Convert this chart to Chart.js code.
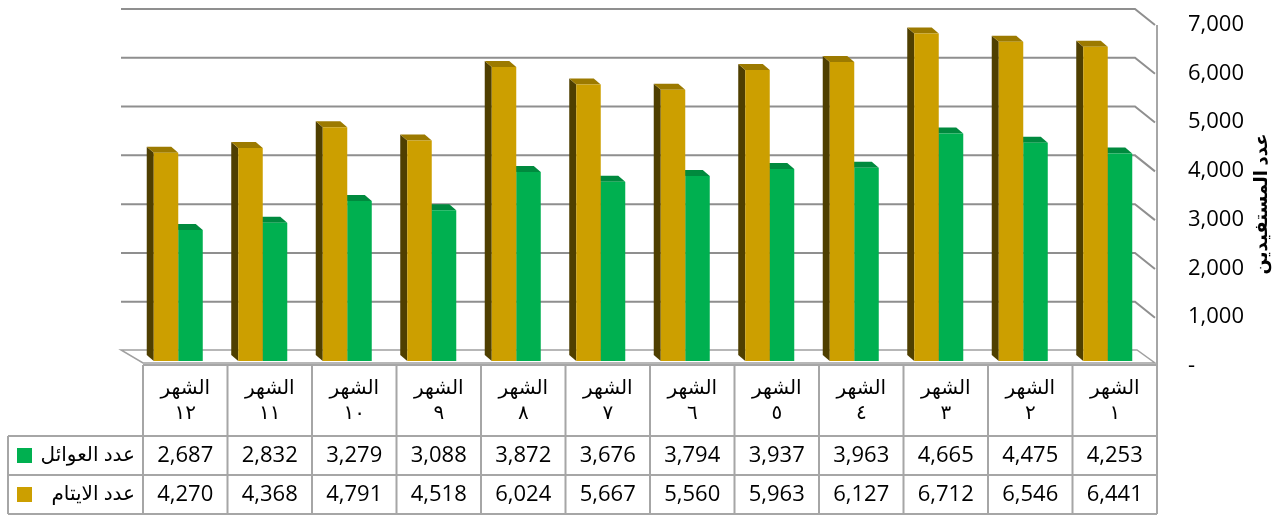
<!DOCTYPE html>
<html lang="ar">
<head>
<meta charset="utf-8">
<script src="https://cdn.jsdelivr.net/npm/chart.js@4.4.1/dist/chart.umd.min.js"></script>
<style>
  html, body { margin: 0; padding: 0; background: #fff; }
  #wrap { position: relative; width: 1284px; height: 517px; }
</style>
</head>
<body>
<div id="wrap"><canvas id="chart" width="1284" height="517"></canvas></div>
<script>
// data, month 1 .. 12 (drawn right to left)
const monthNums = ["١", "٢", "٣", "٤", "٥", "٦", "٧", "٨", "٩", "١٠", "١١", "١٢"];
const families = [4253, 4475, 4665, 3963, 3937, 3794, 3676, 3872, 3088, 3279, 2832, 2687];
const orphans = [6441, 6546, 6712, 6127, 5963, 5560, 5667, 6024, 4518, 4791, 4368, 4270];
const yTickLabels = ["-", "1,000", "2,000", "3,000", "4,000", "5,000", "6,000", "7,000"];

const monthWord = "الشهر";
const familiesName = "عدد العوائل";
const orphansName = "عدد الايتام";
const yTitle = "عدد المستفيدين";

const FONT = "'Open Sans', 'DejaVu Sans', sans-serif";
const gold = { front: "#CC9F00", top: "#9C7A00", side: "#4F3F00" };
const green = { front: "#00B050", top: "#008A3E", side: "#005C29" };
const gridColor = "#8f8f8f";
const tableLine = "#a6a6a6";

const SHIFT = 7;   // bars sit a bit left of the table columns
const DEPTH_X = 7, DEPTH_Y = 6;  // bar depth

const excel3d = {
  id: "excel3d",
  beforeDatasetsDraw(chart) {
    const { ctx, chartArea: a, scales: { y } } = chart;
    const L = a.left + SHIFT, R = a.right + SHIFT;
    const y0 = y.getPixelForValue(0);
    ctx.save();

    // floor
    ctx.fillStyle = "#fff";
    ctx.strokeStyle = "#a0a0a0";
    ctx.lineWidth = 1.5;
    ctx.beginPath();
    ctx.moveTo(L - 22, y0 - 11);
    ctx.lineTo(R - 20, y0 - 11);
    ctx.lineTo(R - 2, y0 + 2);
    ctx.lineTo(L, y0 + 2);
    ctx.closePath();
    ctx.fill();
    ctx.stroke();

    // back wall grid lines + right side wall
    ctx.strokeStyle = gridColor;
    ctx.lineWidth = 2;
    for (let v = 1000; v <= 7000; v += 1000) {
      const py = y.getPixelForValue(v);
      ctx.beginPath();
      ctx.moveTo(L - 22, py - 10.5);
      ctx.lineTo(R - 22, py - 10.5);
      ctx.lineTo(R - 2, py + 5.5);
      ctx.stroke();
    }
    ctx.strokeStyle = "#a6a6a6";
    ctx.beginPath();
    ctx.moveTo(R, y.getPixelForValue(7000) + 5.5);
    ctx.lineTo(R, y0 + 4);
    ctx.stroke();

    // bar side and top faces
    const faces = [gold, green];
    chart.data.datasets.forEach((ds, di) => {
      const meta = chart.getDatasetMeta(di);
      const c = faces[di];
      meta.data.forEach(bar => {
        const p = bar.getProps(["x", "y", "base", "width"], true);
        const x0 = p.x - p.width / 2, x1 = p.x + p.width / 2;
        ctx.fillStyle = c.side;
        ctx.beginPath();
        ctx.moveTo(x0, p.y);
        ctx.lineTo(x0 - DEPTH_X, p.y - DEPTH_Y);
        ctx.lineTo(x0 - DEPTH_X, p.base - DEPTH_Y);
        ctx.lineTo(x0, p.base);
        ctx.closePath();
        ctx.fill();
        ctx.fillStyle = c.top;
        ctx.beginPath();
        ctx.moveTo(x0, p.y);
        ctx.lineTo(x0 - DEPTH_X, p.y - DEPTH_Y);
        ctx.lineTo(x1 - DEPTH_X, p.y - DEPTH_Y);
        ctx.lineTo(x1, p.y);
        ctx.closePath();
        ctx.fill();
      });
    });
    ctx.restore();
  },
  afterDraw(chart) {
    const { ctx, chartArea: a, scales: { x } } = chart;
    const L = a.left + SHIFT, R = a.right + SHIFT;
    const cw = (R - L) / monthNums.length;
    const top = 365, r1 = 436, r2 = 475, bot = 514, left = 8;
    ctx.save();

    // grid of the data table
    ctx.strokeStyle = tableLine;
    ctx.lineWidth = 2;
    ctx.beginPath();
    ctx.moveTo(L, top); ctx.lineTo(R, top);
    [r1, r2, bot].forEach(yy => { ctx.moveTo(left, yy); ctx.lineTo(R, yy); });
    for (let i = 0; i <= monthNums.length; i++) {
      ctx.moveTo(L + i * cw, top); ctx.lineTo(L + i * cw, bot);
    }
    ctx.moveTo(left, r1); ctx.lineTo(left, bot);
    ctx.stroke();

    // column heads and values
    ctx.fillStyle = "#000";
    ctx.textAlign = "center";
    ctx.textBaseline = "middle";
    monthNums.forEach((n, i) => {
      const cx = x.getPixelForTick(i) + SHIFT;
      ctx.font = `20px ${FONT}`;
      ctx.fillText(monthWord, cx, 388);
      ctx.fillText(n, cx, 413);
      ctx.font = `22px ${FONT}`;
      ctx.fillText(families[i].toLocaleString("en-US"), cx, 456);
      ctx.fillText(orphans[i].toLocaleString("en-US"), cx, 495);
    });

    // row headers with legend keys
    ctx.fillStyle = green.front;
    ctx.fillRect(17, 448, 15, 15);
    ctx.fillStyle = gold.front;
    ctx.fillRect(17, 487, 15, 15);
    ctx.fillStyle = "#000";
    ctx.font = `20px ${FONT}`;
    ctx.textAlign = "right";
    ctx.direction = "rtl";
    ctx.fillText(familiesName, 135, 455);
    ctx.fillText(orphansName, 135, 494);

    // vertical axis title
    ctx.translate(1262, 204);
    ctx.rotate(-Math.PI / 2);
    ctx.textAlign = "center";
    ctx.font = `bold 18px ${FONT}`;
    ctx.fillText(yTitle, 0, 0);
    ctx.restore();
  }
};

new Chart(document.getElementById("chart"), {
  type: "bar",
  data: {
    labels: monthNums.map(n => [monthWord, n]),
    datasets: [
      { label: orphansName, data: orphans, backgroundColor: gold.front },
      { label: familiesName, data: families, backgroundColor: green.front },
    ],
  },
  options: {
    responsive: false,
    animation: false,
    layout: { padding: { left: 136, top: 19.5, bottom: 156, right: 0 } },
    datasets: { bar: { categoryPercentage: 0.58, barPercentage: 1 } },
    plugins: {
      legend: { display: false },
      tooltip: { enabled: false },
    },
    scales: {
      x: { reverse: true, display: false, grid: { display: false } },
      y: {
        position: "right",
        min: 0,
        max: 7000,
        grid: { display: false, drawTicks: false },
        border: { display: false },
        ticks: {
          stepSize: 1000,
          padding: 38,
          labelOffset: 5,
          color: "#000",
          font: { family: FONT, size: 22 },
          callback: (v, i) => yTickLabels[i],
        },
        afterFit: s => {
          s.width = 134;
          s.paddingTop = 0;
          s.paddingBottom = 0;
        },
      },
    },
  },
  plugins: [excel3d],
});
</script>
</body>
</html>
